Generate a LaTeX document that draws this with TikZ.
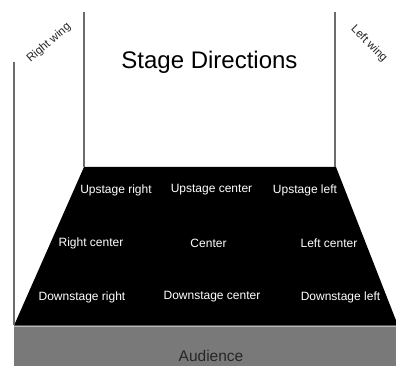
\documentclass[tikz,border=0pt]{standalone}
\usepackage{fontspec}
\setmainfont{Liberation Sans}
\begin{document}
\begin{tikzpicture}[x=1pt,y=-1pt,
  wall/.style={draw=gray!85!black,line width=1.3pt},
  lbl/.style={text=white,font=\fontsize{12}{14}\selectfont,inner sep=0pt},
  wing/.style={font=\fontsize{11.5}{13}\selectfont,inner sep=0pt,text=black!85}]
\useasboundingbox (0,0) rectangle (396,366);
\fill[white] (0,0) rectangle (396,366);
% audience band
\fill[gray!95!black] (14,326) rectangle (396,366);
\draw[gray!55,line width=0.8pt] (14,326.5) -- (396,326.5);
% stage
\fill[black] (84,167) -- (336,167) -- (398,325.5) -- (14,325.5) -- cycle;
% walls
\coordinate (lw1) at (14,62); \coordinate (lw2) at (14,325);
\coordinate (rw1) at (84,12); \coordinate (rw2) at (84,167);
\coordinate (sw1) at (335,12); \coordinate (sw2) at (335,167);
\draw[wall] (lw1) -- (lw2);
\draw[wall] (rw1) -- (rw2);
\draw[wall] (sw1) -- (sw2);
% texts
\node[inner sep=0pt,font=\fontsize{24}{28}\selectfont] (title) at (209.5,62) {Stage Directions};
\node[wing,rotate=41] (rwing) at (49,43) {Right wing};
\node[wing,rotate=-45] (lwing) at (369,44) {Left wing};
\node[lbl] (ur) at (116,190) {Upstage right};
\node[lbl] (uc) at (211.5,190) {Upstage center};
\node[lbl] (ul) at (305,190) {Upstage left};
\node[lbl] (rc) at (91,243) {Right center};
\node[lbl] (c) at (208.5,243) {Center};
\node[lbl] (lc) at (329,243) {Left center};
\node[lbl] (dr) at (82,297) {Downstage right};
\node[lbl] (dc) at (212,297) {Downstage center};
\node[lbl] (dl) at (340.5,297) {Downstage left};
\node[inner sep=0pt,text=black!85,font=\fontsize{15.5}{18}\selectfont] (aud) at (211,356) {Audience};
\end{tikzpicture}
\end{document}
